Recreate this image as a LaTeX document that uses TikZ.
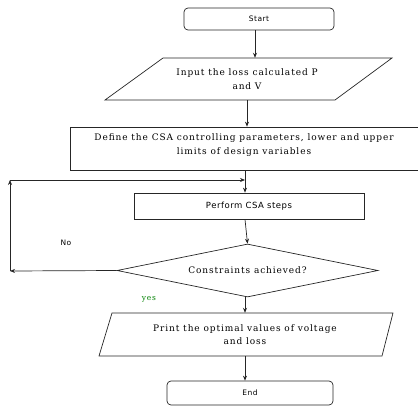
\documentclass[tikz,border=0pt]{standalone}
\usepackage{fontspec}
\setmainfont{DejaVu Serif}
\setsansfont{DejaVu Sans}
\newfontfamily\wideserif[LetterSpace=10]{DejaVu Serif}
\newfontfamily\widesans[LetterSpace=6]{DejaVu Sans}
\usetikzlibrary{shapes.geometric,arrows.meta}
\begin{document}
\begin{tikzpicture}[x=1pt,y=-1pt,
  line/.style={draw=black!85, line width=0.7pt},
  arr/.style={line, -{Stealth[length=5pt,width=4pt]}},
  rbox/.style={line, rounded corners=4pt, inner sep=0pt},
  box/.style={line, inner sep=0pt},
  txt/.style={font=\wideserif\fontsize{9}{13.5}\selectfont, align=center, inner sep=0pt},
  stxt/.style={font=\widesans\fontsize{7.5}{9}\selectfont, inner sep=0pt}]
\useasboundingbox (0,0) rectangle (418,407);
% Start
\node[rbox, stxt, minimum width=150pt, minimum height=22pt] (start) at (259,19) {Start};
% Input parallelogram
\draw[line] (105,100) -- (163,58) -- (392,58) -- (335,100) -- cycle;
\node[txt, minimum width=200pt, minimum height=42pt] (inp) at (247,79) {Input the loss calculated P\\and V};
% Define box
\node[box, minimum width=350pt, minimum height=43pt] (def) at (245,148.5) {};
\node[txt] (deft) at (244,145) {Define the CSA controlling parameters, lower and upper\\limits of design variables};
% Perform
\node[box, stxt, font=\widesans\fontsize{8.5}{10}\selectfont, minimum width=230pt, minimum height=26pt] (perf) at (249,206) {Perform CSA steps};
% Decision
\node[line, diamond, minimum width=261pt, minimum height=53pt, inner sep=0pt, aspect=4.9, txt] (dia) at (247.5,270.5) {Constraints achieved?};
% Print parallelogram
\draw[line] (99,356) -- (112,313) -- (393,313) -- (382,356) -- cycle;
\node[txt, minimum width=200pt, minimum height=43pt] (prt) at (245,334.5) {Print the optimal values of voltage\\and loss};
% End
\node[rbox, stxt, minimum width=166pt, minimum height=24pt] (end) at (250,393) {End};
% connectors
\draw[arr] ([xshift=-4pt]start.south) -- ([xshift=-4pt]start.south |- inp.north);
\draw[arr] (inp.south) -- (inp.south |- def.north);
\draw[arr] ([xshift=-4pt]perf.north |- def.south) -- ([xshift=-4pt]perf.north);
\draw[arr] ([xshift=-4pt]perf.south) -- (dia.north);
\draw[arr] ([xshift=-2.5pt]dia.south) -- ([xshift=-2.5pt]dia.south |- prt.north);
\draw[arr] (prt.south -| end.north) ++(-5,0) coordinate (pe) -- (pe |- end.north);
% feedback loop
\coordinate (fbA) at (10,271);
\coordinate (fbB) at (10,180);
\coordinate (fbC) at (245,180);
\draw[arr] (dia.west) -- (fbA);
\draw[arr] (fbA) -- (fbB);
\draw[arr] (fbB) -- (fbC);
% labels
\node[stxt] (no) at (66,243) {No};
\node[txt, text=green!50!black, font=\wideserif\fontsize{7.5}{9}\selectfont] (yes) at (149,299) {yes};
\end{tikzpicture}
\end{document}
